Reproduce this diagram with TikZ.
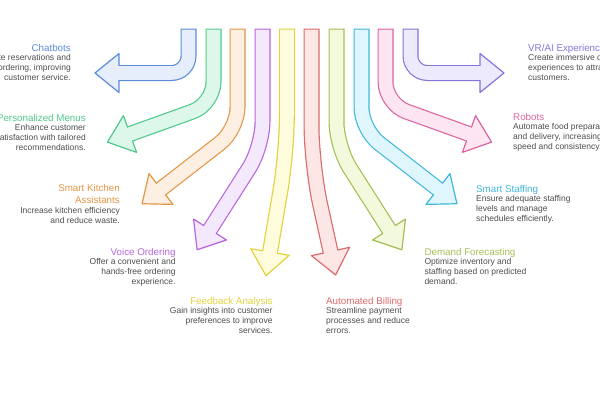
\documentclass[tikz,border=0pt]{standalone}
\usepackage{fontspec}
\setmainfont{Liberation Sans}
\usetikzlibrary{calc}

\definecolor{chatedge}{HTML}{5B8BD9}    \definecolor{chatfill}{HTML}{E6EEFB}
\definecolor{menuedge}{HTML}{4FC98B}    \definecolor{menufill}{HTML}{DDF7EA}
\definecolor{kitchenedge}{HTML}{E39545} \definecolor{kitchenfill}{HTML}{FDEFE1}
\definecolor{voiceedge}{HTML}{B766E0}   \definecolor{voicefill}{HTML}{F4E8FC}
\definecolor{feedbackedge}{HTML}{E2D23E}\definecolor{feedbackfill}{HTML}{FEFCDD}
\definecolor{billingedge}{HTML}{DD6A6A} \definecolor{billingfill}{HTML}{FDE6E6}
\definecolor{demandedge}{HTML}{A5BE55}  \definecolor{demandfill}{HTML}{F2F9DD}
\definecolor{staffedge}{HTML}{3FB8DD}   \definecolor{stafffill}{HTML}{E0F6FD}
\definecolor{robotedge}{HTML}{DC659F}   \definecolor{robotfill}{HTML}{FDE6F1}
\definecolor{vraiedge}{HTML}{8375DA}    \definecolor{vraifill}{HTML}{ECEAFC}
\definecolor{descgray}{HTML}{4D4D4D}

\begin{document}
\begin{tikzpicture}[x=1pt, y=-1pt,
      tubeedge/.style={line width=16pt},
      tubefill/.style={line width=13.6pt},
      tiphead/.style={line width=1.2pt, line join=round},
      ttl/.style={inner sep=0pt, font=\fontsize{9.8}{12}\selectfont},
      txt/.style={inner sep=0pt, font=\fontsize{8.5}{10}\selectfont, text=descgray,
                  execute at begin node=\strut}]

    \useasboundingbox (0,0) rectangle (600,400);
    \clip (0,0) rectangle (600,400);

    % #1 colour, #2 corner radius, #3 top, #4 bend, #5 middle of head base
    \def\flowarrow#1#2#3#4#5{%
      \draw[tubeedge, draw=#1edge, rounded corners=#2] #3 -- #4 -- #5;
      \filldraw[tiphead, draw=#1edge, fill=#1fill]
        ($#5!19.5pt!90:#4$) -- ($#5!-24pt!#4$) -- ($#5!19.5pt!-90:#4$) -- cycle;
      \draw[tubefill, draw=#1fill, rounded corners=#2] ($#3+(0,1.2)$) -- #4 -- ($#5!-1.5pt!#4$);
    }

    % Fan of arrows, left to right
    \flowarrow{chat}{17}{(188.5,28.5)}{(188.5,73)}{(119,73)}
    \flowarrow{menu}{22}{(213.5,28.5)}{(213.5,104)}{(130,134)}
    \flowarrow{kitchen}{22}{(237.5,28.5)}{(237.5,129.5)}{(161,189)}
    \flowarrow{voice}{25}{(262.5,28.5)}{(262.5,147)}{(210,229.5)}
    \flowarrow{feedback}{40}{(287,28.5)}{(287,152)}{(270,252)}
    \flowarrow{billing}{40}{(311.5,28.5)}{(311.5,165)}{(330.5,251.5)}
    \flowarrow{demand}{25}{(336.5,28.5)}{(336.5,147)}{(389,229.5)}
    \flowarrow{staff}{22}{(361.5,28.5)}{(361.5,129.5)}{(438,189)}
    \flowarrow{robot}{22}{(385.5,28.5)}{(385.5,104)}{(469,134)}
    \flowarrow{vrai}{17}{(410.5,28.5)}{(410.5,73)}{(480,73)}

    % Left labels (right aligned)
    \node[ttl, text=chatedge, anchor=base east] (chatbots) at (71,51) {Chatbots};
    \node[txt, anchor=north east, align=right] (chatbots text) at ($(chatbots.base east)+(0,3)$)
      {Automate reservations and\\ordering, improving\\customer service.};

    \node[ttl, text=menuedge, anchor=base east] (menus) at (86,121) {Personalized Menus};
    \node[txt, anchor=north east, align=right] (menus text) at ($(menus.base east)+(0,3)$)
      {Enhance customer\\satisfaction with tailored\\recommendations.};

    \node[ttl, text=kitchenedge, anchor=north east, align=right] (kitchen) at (120,183.1)
      {\strut Smart Kitchen\\Assistants};
    \node[txt, anchor=north east, align=right] (kitchen text) at ($(kitchen.south east)+(0,3)$)
      {Increase kitchen efficiency\\and reduce waste.};

    \node[ttl, text=voiceedge, anchor=base east] (voice) at (175.7,255.5) {Voice Ordering};
    \node[txt, anchor=north east, align=right] (voice text) at ($(voice.base east)+(0,3)$)
      {Offer a convenient and\\hands-free ordering\\experience.};

    \node[ttl, text=feedbackedge, anchor=base east] (feedback) at (272.7,304.5) {Feedback Analysis};
    \node[txt, anchor=north east, align=right] (feedback text) at ($(feedback.base east)+(0,3)$)
      {Gain insights into customer\\preferences to improve\\services.};

    % Right labels (left aligned)
    \node[ttl, text=billingedge, anchor=base west] (billing) at (326,304.5) {Automated Billing};
    \node[txt, anchor=north west, align=left] (billing text) at ($(billing.base west)+(0,3)$)
      {Streamline payment\\processes and reduce\\errors.};

    \node[ttl, text=demandedge, anchor=base west] (demand) at (424.3,255.5) {Demand Forecasting};
    \node[txt, anchor=north west, align=left] (demand text) at ($(demand.base west)+(0,3)$)
      {Optimize inventory and\\staffing based on predicted\\demand.};

    \node[ttl, text=staffedge, anchor=base west] (staffing) at (476,192.5) {Smart Staffing};
    \node[txt, anchor=north west, align=left] (staffing text) at ($(staffing.base west)+(0,3)$)
      {Ensure adequate staffing\\levels and manage\\schedules efficiently.};

    \node[ttl, text=robotedge, anchor=base west] (robots) at (513,120.5) {Robots};
    \node[txt, anchor=north west, align=left] (robots text) at ($(robots.base west)+(0,3)$)
      {Automate food preparation\\and delivery, increasing\\speed and consistency.};

    \node[ttl, text=vraiedge, anchor=base west] (vrai) at (528,51.5) {VR/AI Experiences};
    \node[txt, anchor=north west, align=left] (vrai text) at ($(vrai.base west)+(0,3)$)
      {Create immersive dining\\experiences to attract\\customers.};

\end{tikzpicture}
\end{document}
